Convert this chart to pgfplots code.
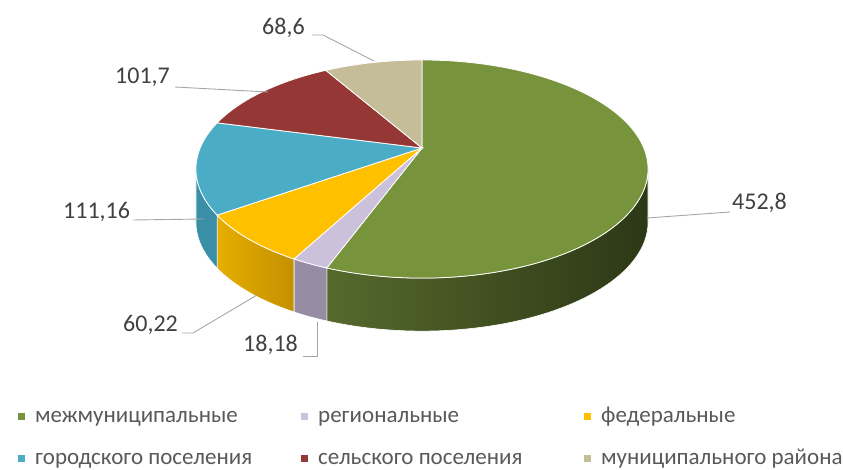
\documentclass[border=0pt]{standalone}
\usepackage{fontspec}
\setmainfont{Carlito}
\usepackage{pgfplots}
\usepackage{pgfplotstable}
\pgfplotsset{compat=1.18}
\definecolor{gtop}{HTML}{77933C}
\definecolor{gsideL}{HTML}{56692C}
\definecolor{gsideR}{HTML}{2C3816}
\definecolor{ltop}{HTML}{CCC1DA}
\definecolor{lside}{HTML}{968CA3}
\definecolor{ytop}{HTML}{FFC000}
\definecolor{ysideL}{HTML}{E6AE00}
\definecolor{ysideR}{HTML}{C49000}
\definecolor{btop}{HTML}{4BACC6}
\definecolor{bside}{HTML}{3A8FA6}
\definecolor{rtop}{HTML}{953735}
\definecolor{ttop}{HTML}{C4BD97}
\definecolor{lbl}{HTML}{404040}
\definecolor{legtxt}{HTML}{595959}
\definecolor{leader}{HTML}{A6A6A6}

\pgfplotstableread{
name val
m 452.8
r 18.18
f 60.22
g 111.16
s 101.7
u 68.6
}\piedata

\tikzset{declare function={
 px(\t)=422+221.8*sin(\t)/(1+0.193*cos(\t));
 py(\t)=148-105*cos(\t)/(1+0.193*cos(\t));
 sg(\t,\lo,\hi)=\lo+(\hi-\lo)*min(\t,1)-(\hi-\lo)*max(\t-2,0);
 so(\t)=53*min(max(\t-1,0),1);
}}

\begin{document}%
\begin{tikzpicture}
\pgfplotstablegetelem{0}{val}\of\piedata\pgfmathsetmacro\vA{\pgfplotsretval}
\pgfplotstablegetelem{1}{val}\of\piedata\pgfmathsetmacro\vB{\pgfplotsretval}
\pgfplotstablegetelem{2}{val}\of\piedata\pgfmathsetmacro\vC{\pgfplotsretval}
\pgfplotstablegetelem{3}{val}\of\piedata\pgfmathsetmacro\vD{\pgfplotsretval}
\pgfplotstablegetelem{4}{val}\of\piedata\pgfmathsetmacro\vE{\pgfplotsretval}
\pgfplotstablegetelem{5}{val}\of\piedata\pgfmathsetmacro\vF{\pgfplotsretval}
\pgfmathsetmacro\tot{\vA+\vB+\vC+\vD+\vE+\vF}
\pgfmathsetmacro\aA{360*(\vA/\tot)}
\pgfmathsetmacro\aB{\aA+360*(\vB/\tot)}
\pgfmathsetmacro\aC{\aB+360*(\vC/\tot)}
\pgfmathsetmacro\aD{\aC+360*(\vD/\tot)}
\pgfmathsetmacro\aE{\aD+360*(\vE/\tot)}
\def\aF{360}
\pgfmathsetmacro\sL{90+asin(0.193)}
\pgfmathsetmacro\sR{270-asin(0.193)}
\useasboundingbox (0,0) rectangle (843pt,470pt);
\begin{axis}[
  at={(0,0)}, anchor=south west,
  width=843pt, height=470pt, scale only axis,
  xmin=0, xmax=843, ymin=0, ymax=470, y dir=reverse,
  enlargelimits=false,
  hide axis, clip=false,
  legend columns=3,
  legend cell align=left,
  legend image code/.code={\fill[#1, draw=none] (0pt,-3.5pt) rectangle (7pt,3.5pt);},
  legend style={at={(axis cs:18,406)}, anchor=north west, draw=none, fill=none,
    inner sep=0pt, font=\fontsize{23}{27}\selectfont, text=legtxt,
    nodes={inner sep=0pt, text height=16pt, text depth=5pt},
    /tikz/every odd column/.append style={column sep=10pt},
    row sep=21pt},
]
% sides (front)
\addplot[forget plot, draw=white, line width=0.6pt, left color=gsideL, right color=gsideR,
  domain=0:3, samples=301, variable=\t]
  ({px(sg(\t,\sL,\aA))}, {py(sg(\t,\sL,\aA))+so(\t)}) -- cycle;
\addplot[forget plot, draw=white, line width=0.6pt, fill=lside,
  domain=0:3, samples=301, variable=\t]
  ({px(sg(\t,\aA,\aB))}, {py(sg(\t,\aA,\aB))+so(\t)}) -- cycle;
\addplot[forget plot, draw=white, line width=0.6pt, left color=ysideL, right color=ysideR,
  domain=0:3, samples=301, variable=\t]
  ({px(sg(\t,\aB,\aC))}, {py(sg(\t,\aB,\aC))+so(\t)}) -- cycle;
\addplot[forget plot, draw=white, line width=0.6pt, fill=bside,
  domain=0:3, samples=301, variable=\t]
  ({px(sg(\t,\aC,\sR))}, {py(sg(\t,\aC,\sR))+so(\t)}) -- cycle;
% tops
\addplot[fill=gtop, draw=white, line width=0.8pt, domain=0:\aA, samples=120, variable=\t]
  ({px(\t)},{py(\t)}) -- (axis cs:422,148) -- cycle;
\addlegendentry{\makebox[266pt][l]{межмуниципальные}}
\addplot[fill=ltop, draw=white, line width=0.8pt, domain=\aA:\aB, samples=20, variable=\t]
  ({px(\t)},{py(\t)}) -- (axis cs:422,148) -- cycle;
\addlegendentry{\makebox[266pt][l]{региональные}}
\addplot[fill=ytop, draw=white, line width=0.8pt, domain=\aB:\aC, samples=40, variable=\t]
  ({px(\t)},{py(\t)}) -- (axis cs:422,148) -- cycle;
\addlegendentry{федеральные}
\addplot[fill=btop, draw=white, line width=0.8pt, domain=\aC:\aD, samples=60, variable=\t]
  ({px(\t)},{py(\t)}) -- (axis cs:422,148) -- cycle;
\addlegendentry{\makebox[266pt][l]{городского поселения}}
\addplot[fill=rtop, draw=white, line width=0.8pt, domain=\aD:\aE, samples=60, variable=\t]
  ({px(\t)},{py(\t)}) -- (axis cs:422,148) -- cycle;
\addlegendentry{\makebox[266pt][l]{сельского поселения}}
\addplot[fill=ttop, draw=white, line width=0.8pt, domain=\aE:\aF, samples=40, variable=\t]
  ({px(\t)},{py(\t)}) -- (axis cs:422,148) -- cycle;
\addlegendentry{муниципального района}
% leader lines
\addplot[forget plot, leader, line width=0.9pt] coordinates {(312,35) (323,35) (374,61)};
\addplot[forget plot, leader, line width=0.9pt] coordinates {(175,87) (268,92)};
\addplot[forget plot, leader, line width=0.9pt] coordinates {(133,220) (204,219)};
\addplot[forget plot, leader, line width=0.9pt] coordinates {(182,333) (193,333) (257,295)};
\addplot[forget plot, leader, line width=0.9pt] coordinates {(303,356) (317,356) (317,322)};
\addplot[forget plot, leader, line width=0.9pt] coordinates {(730,212) (647,218)};
% labels
\node[anchor=west, inner sep=0pt, text=lbl, font=\fontsize{24}{27}\selectfont] at (axis cs:262,28) {68,6};
\node[anchor=west, inner sep=0pt, text=lbl, font=\fontsize{24}{27}\selectfont] at (axis cs:115,77) {101,7};
\node[anchor=west, inner sep=0pt, text=lbl, font=\fontsize{24}{27}\selectfont] at (axis cs:63,212) {111,16};
\node[anchor=west, inner sep=0pt, text=lbl, font=\fontsize{24}{27}\selectfont] at (axis cs:123,325) {60,22};
\node[anchor=west, inner sep=0pt, text=lbl, font=\fontsize{24}{27}\selectfont] at (axis cs:243,345) {18,18};
\node[anchor=west, inner sep=0pt, text=lbl, font=\fontsize{24}{27}\selectfont] at (axis cs:732,203) {452,8};
\end{axis}
\end{tikzpicture}%
\end{document}
